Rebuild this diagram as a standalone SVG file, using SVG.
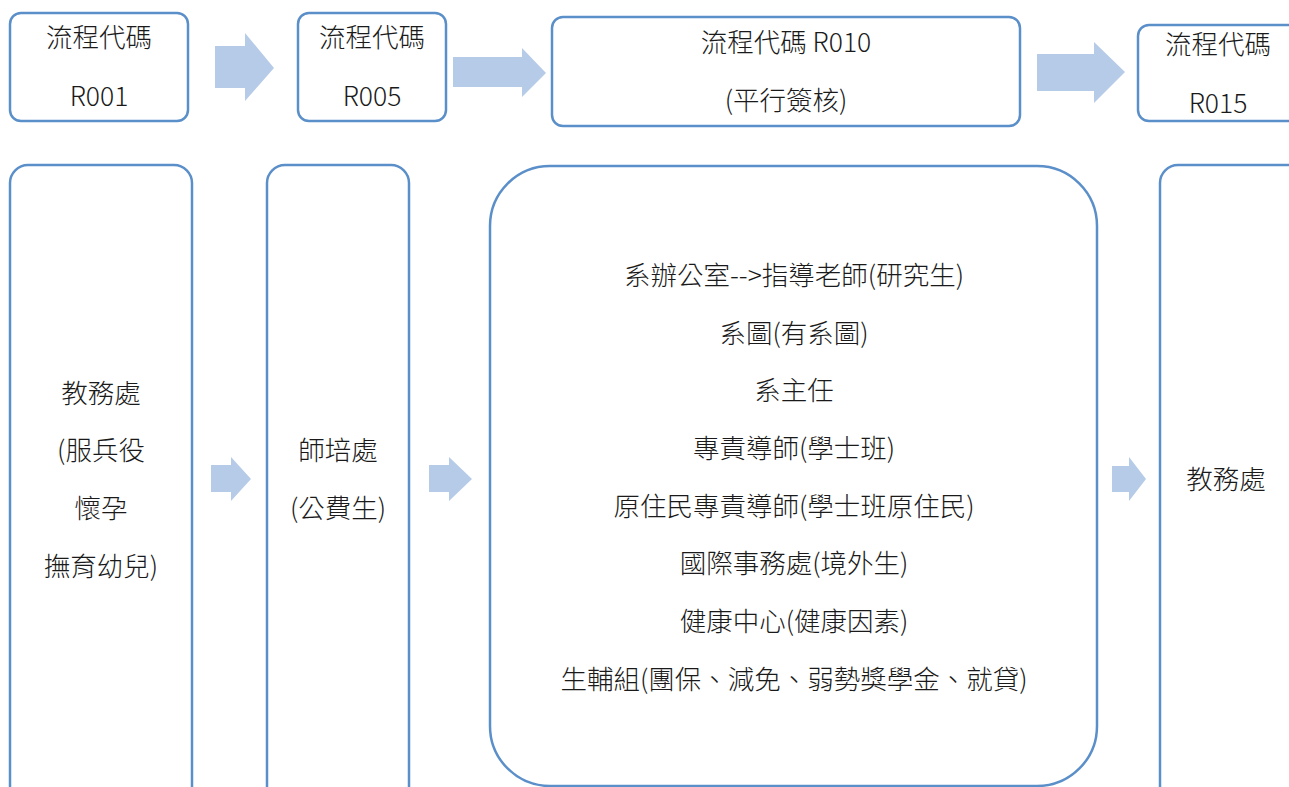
<svg xmlns="http://www.w3.org/2000/svg" width="1289" height="787" viewBox="0 0 1289 787">
<style>
.box{fill:#ffffff;stroke:#5b8fc9;stroke-width:2.5}
.arr{fill:#b5cbe8;stroke:none}
text{font-family:"Noto Sans CJK TC","Noto Sans CJK SC",sans-serif;font-size:26.5px;font-weight:300;fill:#1a1a1a;text-anchor:middle}
</style>
<rect width="1289" height="787" fill="#ffffff"/>
<g id="connectors">
<polygon class="arr" points="215,46 245,46 245,33 274,68 245,101 245,88 215,88"/>
<polygon class="arr" points="453,57 522,57 522,48 546,73 522,97 522,87 453,87"/>
<polygon class="arr" points="1037,54 1094,54 1094,42 1125,72 1094,103 1094,91 1037,91"/>
<polygon class="arr" points="211,465 231,465 231,457 251,479 231,501 231,492 211,492"/>
<polygon class="arr" points="429,465 449,465 449,457 472,479 449,501 449,492 429,492"/>
<polygon class="arr" points="1112,466 1129,466 1129,457 1146,479 1129,501 1129,492 1112,492"/>
</g>
<g id="r001">
<rect class="box" x="10" y="13" width="178" height="108" rx="11"/>
<text x="99" y="47">流程代碼</text>
<text x="99" y="106">R001</text>
</g>
<g id="r005">
<rect class="box" x="298" y="13" width="148" height="108" rx="11"/>
<text x="372" y="47">流程代碼</text>
<text x="372" y="106">R005</text>
</g>
<g id="r010">
<rect class="box" x="552" y="17" width="468" height="109" rx="11"/>
<text x="786" y="52">流程代碼 R010</text>
<text x="786" y="110">(平行簽核)</text>
</g>
<g id="r015">
<rect class="box" x="1138" y="25" width="170" height="96" rx="11"/>
<text x="1218" y="54">流程代碼</text>
<text x="1218" y="113">R015</text>
</g>
<g id="academic1">
<rect class="box" x="10" y="165" width="182" height="640" rx="18"/>
<text x="101" y="403">教務處</text>
<text x="101" y="460">(服兵役</text>
<text x="101" y="518">懷孕</text>
<text x="101" y="576">撫育幼兒)</text>
</g>
<g id="teacher">
<rect class="box" x="267" y="165" width="142" height="640" rx="18"/>
<text x="338" y="460">師培處</text>
<text x="338" y="518">(公費生)</text>
</g>
<g id="parallel">
<rect class="box" x="490" y="166" width="607" height="620" rx="60"/>
<text x="794" y="285">系辦公室--&gt;指導老師(研究生)</text>
<text x="794" y="343">系圖(有系圖)</text>
<text x="794" y="400">系主任</text>
<text x="794" y="458">專責導師(學士班)</text>
<text x="794" y="516">原住民專責導師(學士班原住民)</text>
<text x="794" y="573">國際事務處(境外生)</text>
<text x="794" y="631">健康中心(健康因素)</text>
<text x="794" y="689">生輔組(團保、減免、弱勢獎學金、就貸)</text>
</g>
<g id="academic2">
<rect class="box" x="1160" y="165" width="160" height="640" rx="18"/>
<text x="1226" y="489">教務處</text>
</g>
</svg>
